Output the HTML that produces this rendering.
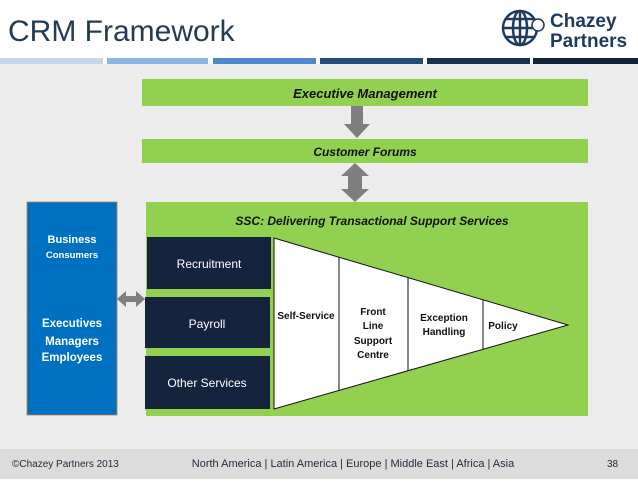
<!DOCTYPE html>
<html><head><meta charset="utf-8"><style>
html,body{margin:0;padding:0;}
body{width:638px;height:479px;overflow:hidden;background:#fff;font-family:"Liberation Sans",sans-serif;}
</style></head><body>
<svg width="638" height="479" viewBox="0 0 638 479" xmlns="http://www.w3.org/2000/svg" font-family="Liberation Sans, sans-serif">
<rect x="0" y="0" width="638" height="479" fill="#fff"/>
<rect x="0" y="64" width="638" height="385" fill="#ececec"/>
<rect x="0" y="449" width="638" height="30" fill="#dcdcdc"/>
<text x="8" y="41" font-size="30" fill="#243a55">CRM Framework</text>
<!-- logo -->
<g stroke="#1e3a5f" stroke-width="2.5" fill="none">
<circle cx="520" cy="28" r="17"/>
<ellipse cx="520" cy="28" rx="7" ry="17"/>
<line x1="503" y1="28" x2="537" y2="28"/>
<line x1="506" y1="19" x2="534" y2="19"/>
<line x1="506" y1="37" x2="534" y2="37"/>
<line x1="520" y1="11" x2="520" y2="45"/>
</g>
<circle cx="538" cy="25" r="6" fill="#fff" stroke="#1e3a5f" stroke-width="1.5"/>
<text x="550" y="27" font-size="19" font-weight="bold" fill="#1e3a5f">Chazey</text>
<text x="550" y="47" font-size="19" font-weight="bold" fill="#1e3a5f">Partners</text>
<!-- bars -->
<rect x="0" y="58" width="103" height="6" fill="#c5d7ec"/>
<rect x="107" y="58" width="101" height="6" fill="#8eb4e0"/>
<rect x="213" y="58" width="103" height="6" fill="#4f88cc"/>
<rect x="320" y="58" width="103" height="6" fill="#244b7c"/>
<rect x="427" y="58" width="103" height="6" fill="#1b3050"/>
<rect x="533" y="58" width="105" height="6" fill="#14233a"/>
<!-- top bars -->
<rect x="142" y="79" width="446" height="27" fill="#92d050"/>
<text x="365" y="98" font-size="13" font-weight="bold" font-style="italic" text-anchor="middle" fill="#111">Executive Management</text>
<rect x="142" y="139" width="446" height="24" fill="#92d050"/>
<text x="365" y="156" font-size="12" font-weight="bold" font-style="italic" text-anchor="middle" fill="#111">Customer Forums</text>
<!-- arrows -->
<polygon points="351,106 363,106 363,124 370,124 357,138 344,124 351,124" fill="#7f7f7f"/>
<polygon points="355,163 369,176 362,176 362,189 369,189 355,202 341,189 348,189 348,176 341,176" fill="#7f7f7f"/>
<polygon points="117,299 126,291 126,296 136,296 136,291 145,299 136,307 136,302 126,302 126,307" fill="#7f7f7f"/>
<!-- blue box -->
<rect x="27" y="202" width="90" height="213" fill="#0070c0" stroke="#c0804a" stroke-width="0.8"/>
<g fill="#fff" font-weight="bold" text-anchor="middle">
<text x="72" y="243" font-size="11">Business</text>
<text x="72" y="258" font-size="9.5">Consumers</text>
<text x="72" y="327" font-size="11.5">Executives</text>
<text x="72" y="345" font-size="11.5">Managers</text>
<text x="72" y="361" font-size="11.5">Employees</text>
</g>
<!-- green box -->
<rect x="146" y="202" width="442" height="214" fill="#92d050"/>
<text x="372" y="225" font-size="12" font-weight="bold" font-style="italic" text-anchor="middle" fill="#111">SSC: Delivering Transactional Support Services</text>
<rect x="147" y="237" width="124" height="52" fill="#14243c"/>
<rect x="145" y="297" width="125" height="51" fill="#14243c"/>
<rect x="145" y="356" width="125" height="53" fill="#14243c"/>
<g fill="#fff" font-size="12" text-anchor="middle">
<text x="209" y="268">Recruitment</text>
<text x="207" y="328">Payroll</text>
<text x="207" y="387">Other Services</text>
</g>
<!-- triangle -->
<polygon points="274,238 568,325 274,409" fill="#fff" stroke="#111" stroke-width="1"/>
<g stroke="#111" stroke-width="1">
<line x1="339" y1="257" x2="339" y2="390"/>
<line x1="408" y1="278" x2="408" y2="371"/>
<line x1="483" y1="300" x2="483" y2="349"/>
</g>
<g fill="#111" font-size="10" font-weight="bold" text-anchor="middle">
<text x="306" y="319">Self-Service</text>
<text x="373" y="315">Front</text>
<text x="373" y="329">Line</text>
<text x="373" y="344">Support</text>
<text x="373" y="358">Centre</text>
<text x="444" y="321">Exception</text>
<text x="444" y="335">Handling</text>
<text x="503" y="329">Policy</text>
</g>
<!-- footer -->
<text x="12" y="467" font-size="10" fill="#1e2a3c">©Chazey Partners 2013</text>
<text x="353" y="467" font-size="11" fill="#1e2a3c" text-anchor="middle">North America | Latin America | Europe |  Middle East | Africa | Asia</text>
<text x="607" y="467" font-size="10" fill="#1e2a3c">38</text>
</svg>
</body></html>
